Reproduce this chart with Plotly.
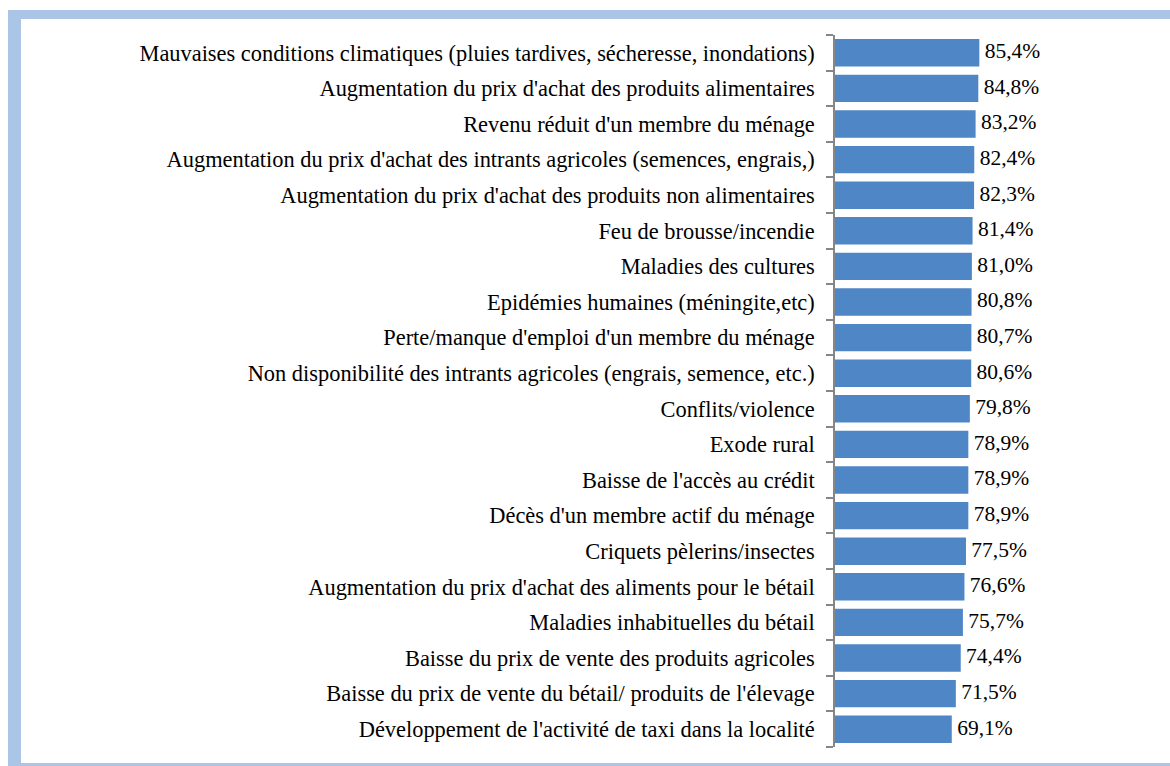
import plotly.graph_objects as go

categories = [
    "Mauvaises conditions climatiques (pluies tardives, sécheresse, inondations)",
    "Augmentation du prix d'achat des produits alimentaires",
    "Revenu réduit d'un membre du ménage",
    "Augmentation du prix d'achat des intrants agricoles (semences, engrais,)",
    "Augmentation du prix d'achat des produits non alimentaires",
    "Feu de brousse/incendie",
    "Maladies des cultures",
    "Epidémies humaines (méningite,etc)",
    "Perte/manque d'emploi d'un membre du ménage",
    "Non disponibilité des intrants agricoles (engrais, semence, etc.)",
    "Conflits/violence",
    "Exode rural",
    "Baisse de l'accès au crédit",
    "Décès d'un membre actif du ménage",
    "Criquets pèlerins/insectes",
    "Augmentation du prix d'achat des aliments pour le bétail",
    "Maladies inhabituelles du bétail",
    "Baisse du prix de vente des produits agricoles",
    "Baisse du prix de vente du bétail/ produits de l'élevage",
    "Développement de l'activité de taxi dans la localité",
]
values = [85.4, 84.8, 83.2, 82.4, 82.3, 81.4, 81.0, 80.8, 80.7, 80.6,
          79.8, 78.9, 78.9, 78.9, 77.5, 76.6, 75.7, 74.4, 71.5, 69.1]
value_labels = ["\u00a0" + f"{v:.1f}%".replace(".", ",") for v in values]

W, H = 1170, 766
ML, MR, MT, MB = 835, 166, 35, 19
PW, PH = W - ML - MR, H - MT - MB

def px(x):
    return (x - ML) / PW

def py(y):
    return 1 - (y - MT) / PH

BAR = "#4F86C6"
BORDER = "#ABC5E7"
FONT = "'Liberation Serif', 'Times New Roman', Tinos, serif"

fig = go.Figure()
fig.add_trace(go.Bar(
    x=values,
    y=categories,
    orientation="h",
    marker=dict(color=BAR, line=dict(width=0)),
    hoverinfo="skip",
))
fig.add_trace(go.Scatter(
    x=values,
    y=categories,
    mode="text",
    text=value_labels,
    textposition="middle right",
    cliponaxis=False,
    textfont=dict(family=FONT, size=21.5, color="#000000"),
    hoverinfo="skip",
))

shapes = [
    dict(type="rect", xref="paper", yref="paper", x0=px(8), x1=px(1170), y0=py(10), y1=py(19),
         fillcolor=BORDER, line=dict(width=0), layer="below"),
    dict(type="rect", xref="paper", yref="paper", x0=px(8), x1=px(21), y0=py(10), y1=py(766),
         fillcolor=BORDER, line=dict(width=0), layer="below"),
    dict(type="rect", xref="paper", yref="paper", x0=px(8), x1=px(1170), y0=py(763), y1=py(766),
         fillcolor=BORDER, line=dict(width=0), layer="below"),
]

fig.update_layout(
    width=W, height=H,
    margin=dict(l=ML, r=MR, t=MT, b=MB, pad=0),
    paper_bgcolor="white", plot_bgcolor="white",
    showlegend=False,
    bargap=0.23,
    font=dict(family=FONT, size=18, color="#000000"),
    shapes=shapes,
    xaxis=dict(range=[0, 100], visible=False, fixedrange=True),
    yaxis=dict(
        categoryorder="array", categoryarray=categories[::-1],
        range=[-0.5, len(categories) - 0.5], fixedrange=True,
        showline=True, linecolor="#868686", linewidth=1.5,
        ticks="outside", ticklen=7, tickcolor="#868686", tickwidth=1.5,
        tickson="boundaries",
        showgrid=False,
        tickfont=dict(family=FONT, size=22.4, color="#000000"),
        ticklabelstandoff=14,
    ),
)

fig.write_html("out.html", config={"displayModeBar": False},
               post_script="document.body.style.margin='0';")
